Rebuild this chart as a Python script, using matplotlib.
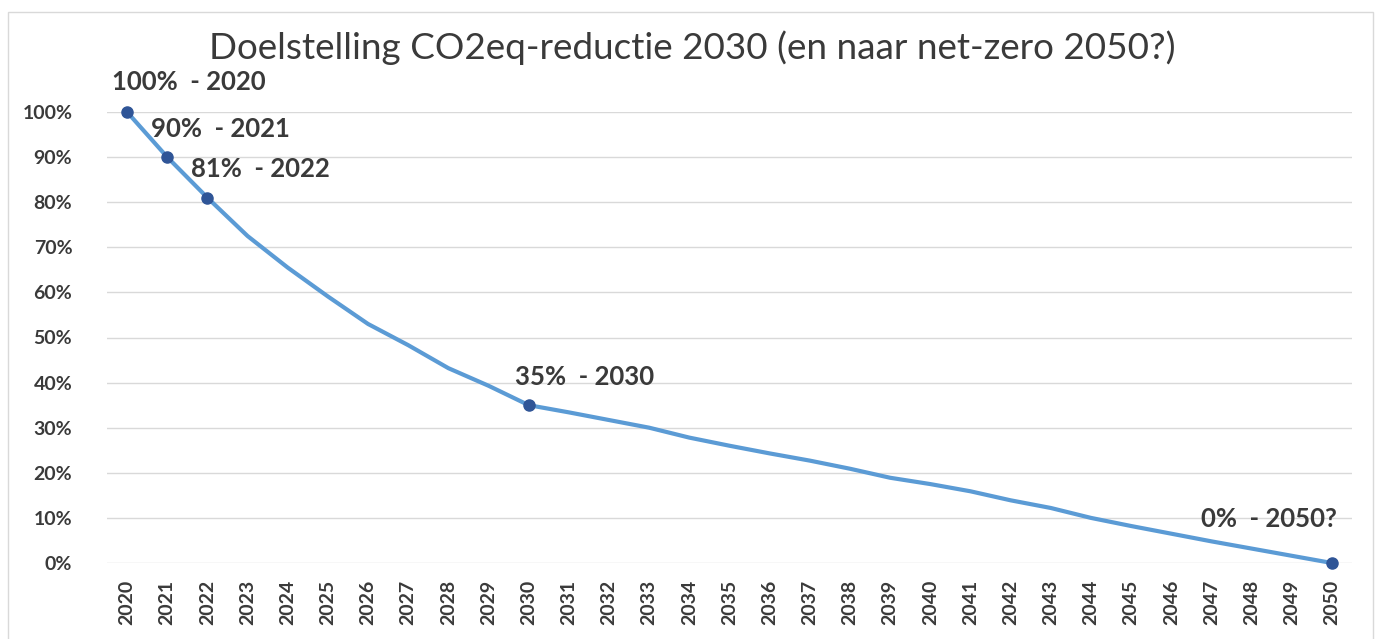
import matplotlib
matplotlib.use("Agg")
import matplotlib.pyplot as plt
from matplotlib.patches import Rectangle

years = list(range(2020, 2051))
values = [100, 90, 81, 72.5, 65.5, 59.1, 53.0, 48.3, 43.2, 39.3, 35,
          33.4, 31.7, 30.0, 27.8, 26.0, 24.3, 22.7, 20.9, 18.9, 17.5,
          15.9, 13.9, 12.2, 10.0, 8.2, 6.5, 4.8, 3.2, 1.6, 0]
labelled = {2020: "100%  - 2020", 2021: "90%  - 2021", 2022: "81%  - 2022",
            2030: "35%  - 2030", 2050: "0%  - 2050?"}
title = "Doelstelling CO2eq-reductie 2030 (en naar net-zero 2050?)"
yticks = list(range(0, 101, 10))

FONT = ["Lato", "DejaVu Sans"]
TXT = "#3A3A3A"

fig = plt.figure(figsize=(13.82, 6.39), dpi=100)
W, H = 1382, 639
ax = fig.add_axes([107 / W, 1 - 563 / H, (1352 - 107) / W, (563 - 112) / H])

ax.plot(years, values, color="#5B9BD5", lw=3.0, solid_joinstyle="round",
        solid_capstyle="round", clip_on=False, zorder=3)
lx = [y for y in years if y in labelled]
ly = [values[years.index(y)] for y in lx]
ax.plot(lx, ly, "o", color="#2F5597", ms=8, clip_on=False, zorder=4)

offsets = {2020: (-15, 30, "left"), 2021: (-16, 28, "left"), 2022: (-16, 29, "left"),
           2030: (-14, 28, "left"), 2050: (5, 44, "right")}
for yr, txt in labelled.items():
    dx, dy, ha = offsets[yr]
    ax.annotate(txt, (yr, values[years.index(yr)]), xytext=(dx, dy),
                textcoords="offset pixels", ha=ha, va="center",
                fontsize=18.5, fontweight="bold", color=TXT, family=FONT)

ax.set_xlim(2019.5, 2050.5)
ax.set_ylim(0, 100)
ax.set_yticks(yticks)
ax.set_yticklabels([f"{v}%" for v in yticks], fontsize=14, color=TXT,
                   family=FONT, fontweight="bold")
ax.set_xticks(years)
ax.set_xticklabels([str(y) for y in years], rotation=90, fontsize=14,
                   fontweight="bold", color=TXT, family=FONT)
ax.tick_params(axis="both", length=0)
ax.tick_params(axis="y", pad=25)
ax.tick_params(axis="x", pad=12)
ax.grid(axis="y", color="#D9D9D9", lw=1)
ax.set_axisbelow(True)
for s in ax.spines.values():
    s.set_visible(False)

fig.text(692 / W, 1 - 48 / H, title, ha="center", va="center", fontsize=26.6,
         color=TXT, family=FONT)

fig.patches.append(Rectangle((8 / W, -0.05), (1373 - 8) / W, 1 - 12 / H + 0.05,
                             transform=fig.transFigure, fill=False,
                             edgecolor="#D9D9D9", lw=1))

fig.savefig("out.png", dpi=100)
